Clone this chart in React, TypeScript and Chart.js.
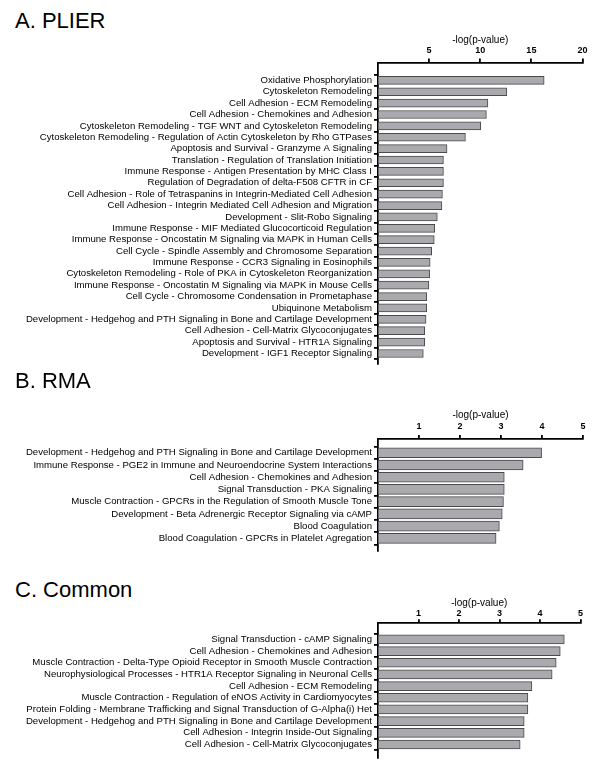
import React, { useEffect, useRef } from "react";
import { Chart, registerables } from "chart.js";

Chart.register(...registerables);

// ---------- DATA ----------
const plierLabels = [
  "Oxidative Phosphorylation",
  "Cytoskeleton Remodeling",
  "Cell Adhesion - ECM Remodeling",
  "Cell Adhesion - Chemokines and Adhesion",
  "Cytoskeleton Remodeling - TGF WNT and Cytoskeleton Remodeling",
  "Cytoskeleton Remodeling - Regulation of Actin Cytoskeleton by Rho GTPases",
  "Apoptosis and Survival - Granzyme A Signaling",
  "Translation - Regulation of Translation Initiation",
  "Immune Response - Antigen Presentation by MHC Class I",
  "Regulation of Degradation of delta-F508 CFTR in CF",
  "Cell Adhesion - Role of Tetraspanins in Integrin-Mediated Cell Adhesion",
  "Cell Adhesion - Integrin Mediated Cell Adhesion and Migration",
  "Development - Slit-Robo Signaling",
  "Immune Response - MIF Mediated Glucocorticoid Regulation",
  "Immune Response - Oncostatin M Signaling via MAPK in Human Cells",
  "Cell Cycle - Spindle Assembly and Chromosome Separation",
  "Immune Response - CCR3 Signaling in Eosinophils",
  "Cytoskeleton Remodeling - Role of PKA in Cytoskeleton Reorganization",
  "Immune Response - Oncostatin M Signaling via MAPK in Mouse Cells",
  "Cell Cycle - Chromosome Condensation in Prometaphase",
  "Ubiquinone Metabolism",
  "Development - Hedgehog and PTH Signaling in Bone and Cartilage Development",
  "Cell Adhesion - Cell-Matrix Glycoconjugates",
  "Apoptosis and Survival - HTR1A Signaling",
  "Development - IGF1 Receptor Signaling",
];
const plierValues = [
  16.25, 12.6, 10.75, 10.6, 10.05, 8.55, 6.75, 6.4, 6.4, 6.4, 6.3, 6.25, 5.8,
  5.55, 5.5, 5.25, 5.1, 5.05, 4.97, 4.77, 4.77, 4.7, 4.57, 4.57, 4.43,
];
const plierTicks = [5, 10, 15, 20];

const rmaLabels = [
  "Development - Hedgehog and PTH Signaling in Bone and Cartilage Development",
  "Immune Response - PGE2 in Immune and Neuroendocrine System Interactions",
  "Cell Adhesion - Chemokines and Adhesion",
  "Signal Transduction - PKA Signaling",
  "Muscle Contraction - GPCRs in the Regulation of Smooth Muscle Tone",
  "Development - Beta Adrenergic Receptor Signaling via cAMP",
  "Blood Coagulation",
  "Blood Coagulation - GPCRs in Platelet Agregation",
];
const rmaValues = [3.99, 3.54, 3.08, 3.08, 3.06, 3.03, 2.96, 2.88];
const rmaTicks = [1, 2, 3, 4, 5];

const commonLabels = [
  "Signal Transduction - cAMP Signaling",
  "Cell Adhesion - Chemokines and Adhesion",
  "Muscle Contraction - Delta-Type Opioid Receptor in Smooth Muscle Contraction",
  "Neurophysiological Processes - HTR1A Receptor Signaling in Neuronal Cells",
  "Cell Adhesion - ECM Remodeling",
  "Muscle Contraction - Regulation of eNOS Activity in Cardiomyocytes",
  "Protein Folding - Membrane Trafficking and Signal Transduction of G-Alpha(i) Het",
  "Development - Hedgehog and PTH Signaling in Bone and Cartilage Development",
  "Cell Adhesion - Integrin Inside-Out Signaling",
  "Cell Adhesion - Cell-Matrix Glycoconjugates",
];
const commonValues = [4.6, 4.5, 4.4, 4.3, 3.8, 3.7, 3.7, 3.61, 3.61, 3.51];
const commonTicks = [1, 2, 3, 4, 5];

const axisTitle = "-log(p-value)";

// ---------- STYLE / LAYOUT ----------
const FONT = "'Liberation Sans', Arial, Helvetica, sans-serif";
const BAR_FILL = "#a9a9ae";
const BAR_EDGE = "#4a4a4a";

type Panel = {
  labels: string[];
  values: number[];
  ticks: number[];
  xMax: number;
  top: number;
  height: number;
  axisH: number;
  bottomPad: number;
  yMin: number;
  yMax: number;
  right: number;
  barThickness: number;
  tickPad: number;
  titlePad: number;
};

function BarPanel({ p }: { p: Panel }) {
  const ref = useRef<HTMLCanvasElement | null>(null);
  useEffect(() => {
    const gridOpts = {
      display: true,
      drawOnChartArea: false,
      drawTicks: true,
      tickLength: 4,
      color: "#000",
      lineWidth: 1.8,
    };
    const borderOpts = { display: true, color: "#000", width: 1.8 };
    const chart = new Chart(ref.current as HTMLCanvasElement, {
      type: "bar",
      data: {
        datasets: [
          {
            data: p.values.map((v, i) => ({ x: v, y: i })),
            backgroundColor: BAR_FILL,
            borderColor: BAR_EDGE,
            borderWidth: 1,
            borderSkipped: false,
            barThickness: p.barThickness,
          },
        ],
      },
      options: {
        indexAxis: "y",
        animation: false,
        responsive: false,
        events: [],
        plugins: { legend: { display: false }, tooltip: { enabled: false } },
        layout: {
          padding: { left: 0, right: 600 - p.right, top: 0, bottom: p.bottomPad },
        },
        scales: {
          x: {
            type: "linear",
            position: "top",
            min: 0,
            max: p.xMax,
            afterBuildTicks: (s: any) => {
              s.ticks = p.ticks.map((v) => ({ value: v }));
            },
            afterFit: (s: any) => {
              s.height = p.axisH;
            },
            grid: gridOpts,
            border: borderOpts,
            ticks: {
              color: "#000",
              font: { family: FONT, size: 9, weight: "bold" },
              padding: p.tickPad,
              maxRotation: 0,
            },
            title: {
              display: true,
              text: axisTitle,
              color: "#000",
              font: { family: FONT, size: 10 },
              padding: { top: p.titlePad, bottom: 0 },
            },
          },
          y: {
            type: "linear",
            reverse: true,
            min: p.yMin,
            max: p.yMax,
            afterBuildTicks: (s: any) => {
              s.ticks = p.labels.map((_, i) => ({ value: i }));
            },
            afterFit: (s: any) => {
              s.width = 378;
            },
            grid: gridOpts,
            border: borderOpts,
            ticks: {
              color: "#000",
              font: { family: FONT, size: 9.6 },
              padding: 2,
              autoSkip: false,
              callback: (v: any) => p.labels[v as number] ?? "",
            },
          },
        },
      } as any,
    });
    return () => chart.destroy();
  }, []);
  return (
    <canvas
      ref={ref}
      width={600}
      height={p.height}
      style={{ position: "absolute", left: 0, top: p.top, display: "block" }}
    />
  );
}

const panels: { title: string; titleTop: number; p: Panel }[] = [
  {
    title: "A. PLIER",
    titleTop: 10,
    p: {
      labels: plierLabels,
      values: plierValues,
      ticks: plierTicks,
      xMax: 20,
      top: 26,
      height: 346,
      axisH: 36.5,
      bottomPad: 4,
      yMin: -1.042,
      yMax: 24.417,
      right: 582.5,
      barThickness: 8,
      tickPad: 2.2,
      titlePad: 8,
    },
  },
  {
    title: "B. RMA",
    titleTop: 370,
    p: {
      labels: rmaLabels,
      values: rmaValues,
      ticks: rmaTicks,
      xMax: 5,
      top: 403,
      height: 156,
      axisH: 36,
      bottomPad: 4,
      yMin: -0.554,
      yMax: 7.485,
      right: 583,
      barThickness: 10,
      tickPad: 2.9,
      titlePad: 6,
    },
  },
  {
    title: "C. Common",
    titleTop: 579,
    p: {
      labels: commonLabels,
      values: commonValues,
      ticks: commonTicks,
      xMax: 5,
      top: 587,
      height: 179,
      axisH: 36.3,
      bottomPad: 4,
      yMin: -0.8,
      yMax: 9.6,
      right: 580.5,
      barThickness: 9,
      tickPad: 0,
      titlePad: 10,
    },
  },
];

export default function App() {
  return (
    <div
      style={{
        position: "absolute",
        left: 0,
        top: 0,
        width: 600,
        height: 772,
        background: "#fff",
        overflow: "hidden",
      }}
    >
      {panels.map((pn) => (
        <React.Fragment key={pn.title}>
          <div
            style={{
              position: "absolute",
              left: 15,
              top: pn.titleTop,
              fontFamily: FONT,
              fontSize: 22,
              lineHeight: "22px",
              color: "#000",
              whiteSpace: "nowrap",
            }}
          >
            {pn.title}
          </div>
          <BarPanel p={pn.p} />
        </React.Fragment>
      ))}
    </div>
  );
}
